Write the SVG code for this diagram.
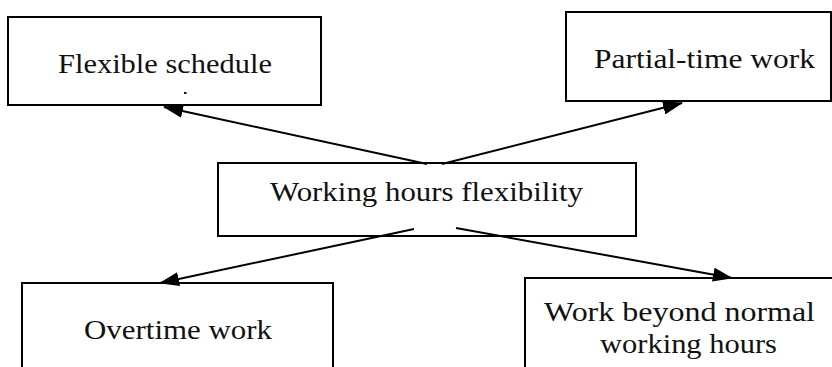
<svg xmlns="http://www.w3.org/2000/svg" width="832" height="367" viewBox="0 0 832 367">
<style>
.box{fill:#fff;stroke:#000;stroke-width:2}
.t{font-family:"Liberation Serif","DejaVu Serif",serif;font-size:27px;fill:#111}
.c{stroke:#000;stroke-width:2;fill:none}
</style>
<defs>
<marker id="ah" markerUnits="userSpaceOnUse" markerWidth="20" markerHeight="14" viewBox="0 0 20 14" refX="19" refY="7" orient="auto">
<path d="M0,0 L20,7 L0,14 Z" fill="#000"/>
</marker>
</defs>
<rect width="832" height="367" fill="#fff"/>
<g id="n1">
<rect class="box" x="8" y="17" width="313" height="88"/>
<text class="t" x="58" y="73" textLength="214" lengthAdjust="spacingAndGlyphs">Flexible schedule</text>
<rect x="184" y="92" width="2.5" height="2" fill="#111"/>
</g>
<g id="n2">
<rect class="box" x="566" y="12" width="265" height="89"/>
<text class="t" x="594" y="68" textLength="221" lengthAdjust="spacingAndGlyphs">Partial-time work</text>
</g>
<g id="n3">
<rect class="box" x="218" y="163" width="418" height="73"/>
<text class="t" x="270" y="201" textLength="313" lengthAdjust="spacingAndGlyphs">Working hours flexibility</text>
</g>
<g id="n4">
<rect class="box" x="22" y="283" width="311" height="100"/>
<text class="t" x="84" y="339" textLength="188" lengthAdjust="spacingAndGlyphs">Overtime work</text>
</g>
<g id="n5">
<rect class="box" x="525" y="278" width="320" height="105"/>
<text class="t" x="544" y="321" textLength="271" lengthAdjust="spacingAndGlyphs">Work beyond normal</text>
<text class="t" x="600" y="353" textLength="177" lengthAdjust="spacingAndGlyphs">working hours</text>
</g>
<g id="connectors">
<line class="c" x1="427" y1="164" x2="164" y2="107" marker-end="url(#ah)"/>
<line class="c" x1="442" y1="164" x2="682" y2="103" marker-end="url(#ah)"/>
<line class="c" x1="414" y1="229" x2="160" y2="283" marker-end="url(#ah)"/>
<line class="c" x1="456" y1="228" x2="732" y2="278" marker-end="url(#ah)"/>
</g>
</svg>
